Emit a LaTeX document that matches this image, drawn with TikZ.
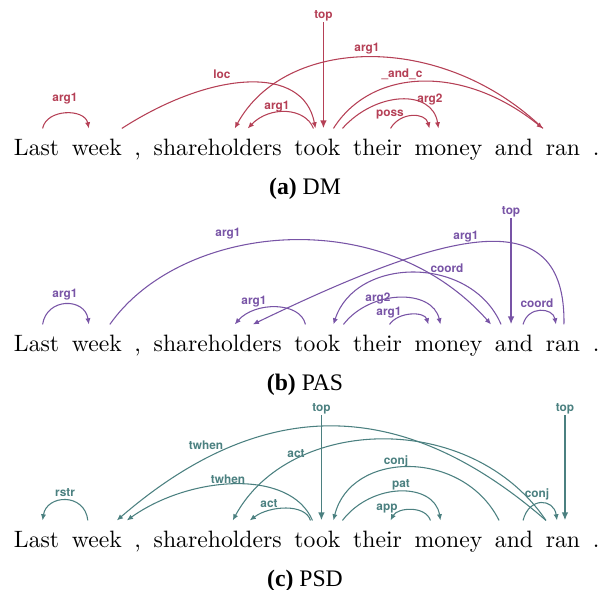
\documentclass[tikz,border=0pt]{standalone}
\usepackage{fontspec}
\newfontfamily\lblfont{TeX Gyre Heros}
\newfontfamily\capfont{Liberation Serif}
\usepackage{xcolor}
\usepackage{tikz}
\usetikzlibrary{chains, positioning, arrows.meta, calc}

\definecolor{dmred}{RGB}{181,64,86}
\definecolor{paspurple}{RGB}{120,84,166}
\definecolor{psdteal}{RGB}{75,128,128}

\begin{document}
\begin{tikzpicture}[
    x = 0.4223pt, y = -0.4223pt,
    node distance = 5.35pt,
    word/.style = {inner sep=0pt, outer sep=0pt, text height=7pt, text depth=2pt, on chain},
    lbl/.style = {font=\lblfont\bfseries\fontsize{5}{6}\selectfont, inner sep=0.5pt},
    arc/.style = {-{Latex[length=2.6pt, width=2.2pt]}, line width=0.45pt},
    toparc/.style = {-{Latex[length=3.4pt, width=2.8pt]}, line width=0.75pt},
    caption/.style = {anchor=base, font=\capfont\fontsize{10}{12}\selectfont},
    dm/.style = {color=dmred},
    pas/.style = {color=paspurple},
    psd/.style = {color=psdteal}
  ]
    \useasboundingbox (0,0) rectangle (602,590);

    % (a) DM
    \begin{scope}[start chain=going right]
      \node[word, anchor=base west] (dm-last) at (14,155) {Last};
      \node[word] (dm-week) {week};
      \node[word] (dm-comma) {,};
      \node[word] (dm-sh) {shareholders};
      \node[word] (dm-took) {took};
      \node[word] (dm-their) {their};
      \node[word] (dm-money) {money};
      \node[word] (dm-and) {and};
      \node[word] (dm-ran) {ran};
      \node[word] (dm-dot) {.};
    \end{scope}
    \draw[arc, dm] ($(dm-last.north)+(6,-10)$) .. controls +(4,-20) and +(-4,-20) .. ($(dm-week.north)+(-8,-10)$);
    \draw[arc, dm] ($(dm-week.north)+(25,-10)$) .. controls +(90,-58) and +(-12,-64) .. ($(dm-took.north)+(-2,-10)$);
    \draw[arc, dm] ($(dm-ran.north)+(-20,-10)$) .. controls +(-102,-98) and +(50,-92) .. ($(dm-sh.north)+(17,-10)$);
    \draw[arc, dm] ($(dm-took.north)+(-4,-10)$) .. controls +(-8,-21) and +(22,-23) .. ($(dm-sh.north)+(30,-10)$);
    \draw[arc, dm] ($(dm-took.north)+(16,-10)$) .. controls +(37,-59) and +(-82,-66) .. ($(dm-ran.north)+(-20,-10)$);
    \draw[arc, dm] ($(dm-took.north)+(25,-10)$) .. controls +(33,-37) and +(-6,-40) .. ($(dm-money.north)+(-10,-10)$);
    \draw[arc, dm] ($(dm-their.north)+(13,-10)$) .. controls +(10,-17) and +(-4,-16) .. ($(dm-money.north)+(-19,-10)$);
    \node[lbl, dm] (dm-top) at ($(dm-took.north)+(6,-123)$) {top};
    \draw[toparc, dm] (dm-top) -- ($(dm-took.north)+(6,-10)$);
    \node[lbl, dm] (dm-l1) at (65,99) {arg1};
    \node[lbl, dm] (dm-l2) at (222,74) {loc};
    \node[lbl, dm] (dm-l3) at (367,49) {arg1};
    \node[lbl, dm] (dm-l4) at (277,107) {arg1};
    \node[lbl, dm] (dm-l5) at (402,74) {\_and\_c};
    \node[lbl, dm] (dm-l6) at (430,99) {arg2};
    \node[lbl, dm] (dm-l7) at (390,115) {poss};
    \node[caption] (dm-cap) at (305,194) {\textbf{(a)} DM};

    % (b) PAS
    \begin{scope}[start chain=going right]
      \node[word, anchor=base west] (pas-last) at (14,351) {Last};
      \node[word] (pas-week) {week};
      \node[word] (pas-comma) {,};
      \node[word] (pas-sh) {shareholders};
      \node[word] (pas-took) {took};
      \node[word] (pas-their) {their};
      \node[word] (pas-money) {money};
      \node[word] (pas-and) {and};
      \node[word] (pas-ran) {ran};
      \node[word] (pas-dot) {.};
    \end{scope}
    \draw[arc, pas] ($(pas-last.north)+(6,-10)$) .. controls +(4,-27) and +(-4,-27) .. ($(pas-week.north)+(-8,-10)$);
    \draw[arc, pas] ($(pas-week.north)+(13,-10)$) .. controls +(70,-100) and +(-110,-124) .. ($(pas-and.north)+(-23,-10)$);
    \draw[arc, pas] ($(pas-took.north)+(-12,-10)$) .. controls +(-5,-23) and +(20,-23) .. ($(pas-sh.north)+(17,-10)$);
    \draw[arc, pas] ($(pas-ran.north)+(1,-10)$) .. controls +(2,-125) and +(197,-95) .. ($(pas-sh.north)+(35,-10)$);
    \draw[arc, pas] ($(pas-and.north)+(-13,-10)$) .. controls +(-30,-70) and +(22,-68) .. ($(pas-took.north)+(16,-10)$);
    \draw[arc, pas] ($(pas-took.north)+(26,-10)$) .. controls +(27,-35) and +(-8,-36) .. ($(pas-money.north)+(-8,-10)$);
    \draw[arc, pas] ($(pas-their.north)+(12,-10)$) .. controls +(9,-13) and +(-4,-13) .. ($(pas-money.north)+(-20,-10)$);
    \draw[arc, pas] ($(pas-and.north)+(9,-10)$) .. controls +(5,-19) and +(-3,-17) .. ($(pas-ran.north)+(-7,-10)$);
    \node[lbl, pas] (pas-top) at ($(pas-and.north)+(-3,-123)$) {top};
    \draw[toparc, pas] (pas-top) -- ($(pas-and.north)+(-3,-10)$);
    \node[lbl, pas] (pas-l1) at (65,295) {arg1};
    \node[lbl, pas] (pas-l2) at (228,234) {arg1};
    \node[lbl, pas] (pas-l3) at (254,302) {arg1};
    \node[lbl, pas] (pas-l4) at (466,237) {arg1};
    \node[lbl, pas] (pas-l5) at (447,268) {coord};
    \node[lbl, pas] (pas-l6) at (378,298) {arg2};
    \node[lbl, pas] (pas-l7) at (389,313) {arg1};
    \node[lbl, pas] (pas-l8) at (537,303) {coord};
    \node[caption] (pas-cap) at (305,390) {\textbf{(b)} PAS};

    % (c) PSD
    \begin{scope}[start chain=going right]
      \node[word, anchor=base west] (psd-last) at (14,547) {Last};
      \node[word] (psd-week) {week};
      \node[word] (psd-comma) {,};
      \node[word] (psd-sh) {shareholders};
      \node[word] (psd-took) {took};
      \node[word] (psd-their) {their};
      \node[word] (psd-money) {money};
      \node[word] (psd-and) {and};
      \node[word] (psd-ran) {ran};
      \node[word] (psd-dot) {.};
    \end{scope}
    \draw[arc, psd] ($(psd-week.north)+(-9,-10)$) .. controls +(-3,-28) and +(4,-26) .. ($(psd-last.north)+(6,-10)$);
    \draw[arc, psd] ($(psd-ran.north)+(-17,-10)$) .. controls +(-145,-126) and +(145,-125) .. ($(psd-week.north)+(20,-10)$);
    \draw[arc, psd] ($(psd-took.north)+(-5,-10)$) .. controls +(-22,-52) and +(63,-45) .. ($(psd-week.north)+(30,-10)$);
    \draw[arc, psd] ($(psd-ran.north)+(-17,-10)$) .. controls +(-75,-111) and +(57,-105) .. ($(psd-sh.north)+(15,-10)$);
    \draw[arc, psd] ($(psd-took.north)+(-7,-10)$) .. controls +(-5,-17) and +(20,-15) .. ($(psd-sh.north)+(32,-10)$);
    \draw[arc, psd] ($(psd-and.north)+(-15,-10)$) .. controls +(-36,-72) and +(17,-70) .. ($(psd-took.north)+(16,-10)$);
    \draw[arc, psd] ($(psd-took.north)+(25,-10)$) .. controls +(30,-39) and +(-6,-38) .. ($(psd-money.north)+(-8,-10)$);
    \draw[arc, psd] ($(psd-money.north)+(-18,-10)$) .. controls +(-5,-15) and +(7,-13) .. ($(psd-their.north)+(13,-10)$);
    \draw[arc, psd] ($(psd-and.north)+(9,-10)$) .. controls +(6,-24) and +(-3,-22) .. ($(psd-ran.north)+(-6,-10)$);
    \node[lbl, psd] (psd-top1) at ($(psd-took.north)+(4,-122)$) {top};
    \draw[toparc, psd] (psd-top1) -- ($(psd-took.north)+(4,-10)$);
    \node[lbl, psd] (psd-top2) at ($(psd-ran.north)+(2,-122)$) {top};
    \draw[toparc, psd] (psd-top2) -- ($(psd-ran.north)+(2,-10)$);
    \node[lbl, psd] (psd-l1) at (65,493) {rstr};
    \node[lbl, psd] (psd-l2) at (206,445) {twhen};
    \node[lbl, psd] (psd-l3) at (228,479) {twhen};
    \node[lbl, psd] (psd-l4) at (296,454) {act};
    \node[lbl, psd] (psd-l5) at (269,504) {act};
    \node[lbl, psd] (psd-l6) at (396,461) {conj};
    \node[lbl, psd] (psd-l7) at (401,485) {pat};
    \node[lbl, psd] (psd-l8) at (387,509) {app};
    \node[lbl, psd] (psd-l9) at (537,494) {conj};
    \node[caption] (psd-cap) at (305,586) {\textbf{(c)} PSD};
\end{tikzpicture}
\end{document}
